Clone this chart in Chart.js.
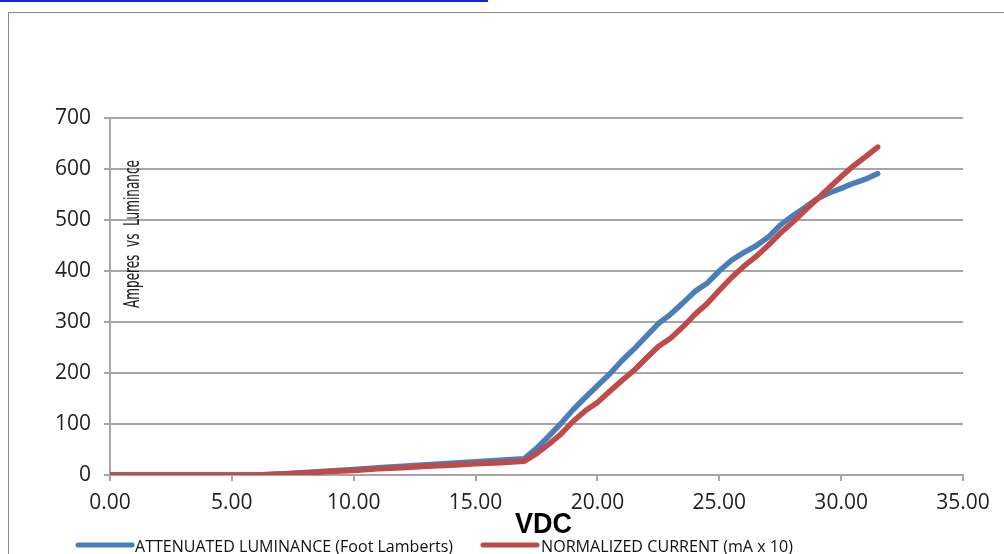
<!DOCTYPE html>
<html>
<head>
<meta charset="utf-8">
<script src="https://cdn.jsdelivr.net/npm/chart.js@4.4.1/dist/chart.umd.min.js"></script>
<style>
  html, body { margin: 0; padding: 0; background: #fff; }
  body { width: 1004px; height: 554px; position: relative; overflow: hidden; }
  #frame { position: absolute; left: 8px; top: 12px; width: 1010px; height: 560px; border: 1.5px solid #8c8c8c; box-sizing: border-box; }
  #link { position: absolute; left: 0; top: 0; width: 488px; height: 2px; background: #0a2bd6; }
  #wrap { position: absolute; left: 0; top: 0; width: 1004px; height: 554px; }
</style>
</head>
<body>
<div id="link"></div>
<div id="frame"></div>
<div id="wrap"><canvas id="c" width="1004" height="554"></canvas></div>
<script>
// ---- data ----
const vdc = [0, 1, 2, 3, 4, 5, 6, 7, 8, 9, 10, 11, 12, 13, 14, 15, 16, 17,
  17.5, 18, 18.5, 19, 19.5, 20, 20.5, 21, 21.5, 22, 22.5, 23, 23.5, 24, 24.5,
  25, 25.5, 26, 26.5, 27, 27.5, 28, 28.5, 29, 29.5, 30, 30.5, 31, 31.5];
const luminance = [0, 0, 0, 0, 0, 0, 0, 2, 5, 8, 11, 14, 17, 20, 23, 26, 29, 32,
  52, 76, 101, 128, 152, 175, 198, 224, 247, 272, 297, 315, 337, 360, 376,
  400, 421, 436, 449, 466, 490, 508, 524, 541, 553, 562, 572, 580, 591];
const current = [0, 0, 0, 0, 0, 0, 0, 2, 4, 7, 9, 12, 14, 17, 19, 22, 24, 27,
  42, 60, 80, 105, 126, 142, 164, 185, 205, 229, 252, 268, 290, 315, 336,
  362, 387, 409, 428, 450, 474, 495, 518, 540, 563, 585, 606, 624, 643];
const seriesNames = ['ATTENUATED LUMINANCE (Foot Lamberts)', 'NORMALIZED CURRENT (mA x 10)'];
const xTicks = [0, 5, 10, 15, 20, 25, 30, 35];
const yTicks = [0, 100, 200, 300, 400, 500, 600, 700];
const xTitle = 'VDC';
const yTitle = 'Amperes  vs  Luminance';

const BLUE = '#4a7ebb', RED = '#be4b48', GRID = '#a6a6a6';
const toPts = ys => vdc.map((x, i) => ({ x: x, y: ys[i] }));

function fitText(ctx, text, x, y, w) {
  const m = ctx.measureText(text).width;
  ctx.save();
  ctx.translate(x, y);
  ctx.scale(w / m, 1);
  ctx.fillText(text, 0, 0);
  ctx.restore();
}

const extras = {
  id: 'extras',
  afterDraw(chart) {
    const ctx = chart.ctx;
    ctx.save();
    ctx.fillStyle = '#000';
    ctx.textAlign = 'left';
    ctx.textBaseline = 'alphabetic';
    // y title inside plot
    ctx.save();
    ctx.translate(139, 308);
    ctx.rotate(-Math.PI / 2);
    ctx.font = '22px "DejaVu Sans Condensed", "Liberation Sans Narrow", sans-serif';
    ctx.fillStyle = '#222';
    fitText(ctx, yTitle, 0, 0, 148);
    ctx.restore();
    // x title
    ctx.font = 'bold 29px "Liberation Sans", Arial, sans-serif';
    fitText(ctx, xTitle, 515, 533, 57);
    // legend
    const items = [
      { c: BLUE, x0: 78, x1: 132, tx: 135, tw: 318 },
      { c: RED, x0: 483, x1: 537, tx: 541, tw: 252 }
    ];
    items.forEach((it, i) => {
      ctx.strokeStyle = it.c;
      ctx.lineWidth = 5;
      ctx.lineCap = 'round';
      ctx.beginPath();
      ctx.moveTo(it.x0, 545);
      ctx.lineTo(it.x1, 545);
      ctx.stroke();
      ctx.fillStyle = '#111';
      ctx.font = '17px "Open Sans", sans-serif';
      fitText(ctx, seriesNames[i], it.tx, 551.5, it.tw);
    });
    ctx.restore();
  }
};

new Chart(document.getElementById('c'), {
  type: 'line',
  data: {
    datasets: [
      { label: seriesNames[0], data: toPts(luminance), borderColor: BLUE, borderWidth: 5.5,
        pointRadius: 0, tension: 0, borderCapStyle: 'round', borderJoinStyle: 'round', order: 1 },
      { label: seriesNames[1], data: toPts(current), borderColor: RED, borderWidth: 5.5,
        pointRadius: 0, tension: 0, borderCapStyle: 'round', borderJoinStyle: 'round', order: 0 }
    ]
  },
  options: {
    responsive: false,
    animation: false,
    events: [],
    layout: { padding: { left: 0, top: 118, right: 41, bottom: 0 } },
    plugins: { legend: { display: false }, tooltip: { enabled: false } },
    scales: {
      x: {
        type: 'linear', min: 0, max: 35,
        afterBuildTicks: s => { s.ticks = xTicks.map(v => ({ value: v })); },
        afterFit: s => { s.height = 79; },
        grid: { drawOnChartArea: false, drawTicks: true, tickLength: 6, color: GRID, lineWidth: 2 },
        border: { color: GRID, width: 2 },
        ticks: { padding: 9, color: '#222', font: { family: '"Open Sans", sans-serif', size: 21 },
          maxRotation: 0, autoSkip: false, callback: v => Number(v).toFixed(2) }
      },
      y: {
        min: 0, max: 700,
        afterBuildTicks: s => { s.ticks = yTicks.map(v => ({ value: v })); },
        afterFit: s => { s.width = 110; },
        grid: { color: GRID, lineWidth: 2, drawTicks: true, tickLength: 6 },
        border: { color: GRID, width: 2 },
        ticks: { padding: 13, color: '#222', font: { family: '"Open Sans", sans-serif', size: 21 } }
      }
    }
  },
  plugins: [extras]
});
</script>
</body>
</html>
